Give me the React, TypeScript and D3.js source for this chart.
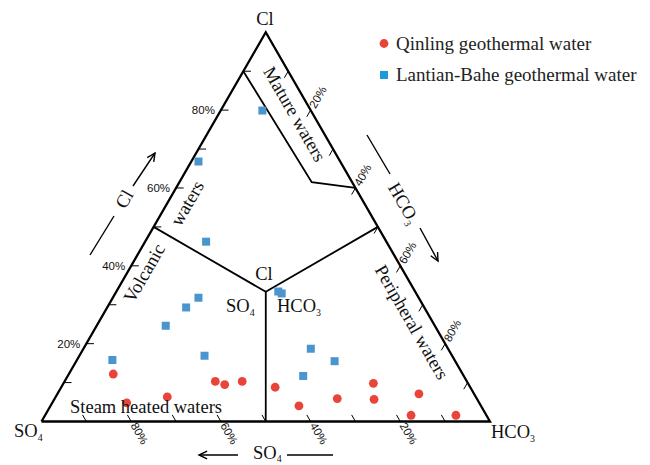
import React from 'react';
import * as d3 from 'd3';

// Cl - SO4 - HCO3 ternary (percent of each anion)
const qinlingCl = [12.2, 4.8, 6.3, 10.3, 9.5, 10.3, 8.8, 4.0, 5.9, 9.8, 5.7, 7.1, 1.6, 1.6];
const qinlingSO4 = [77.9, 78.6, 68.8, 56.1, 54.4, 50.1, 43.5, 40.6, 31.1, 21.1, 23.0, 12.3, 16.8, 6.8];
const qinlingHCO3 = [9.9, 16.6, 24.9, 33.6, 36.1, 39.6, 47.7, 55.4, 63.0, 69.1, 71.3, 80.6, 81.6, 91.6];

const lantianCl = [79.9, 66.8, 46.2, 33.4, 32.9, 31.8, 29.3, 24.6, 15.8, 16.9, 18.7, 15.5, 11.7];
const lantianSO4 = [10.8, 31.6, 40.2, 30.5, 30.0, 49.1, 53.1, 60.0, 76.3, 55.2, 30.6, 26.9, 35.8];
const lantianHCO3 = [9.3, 1.6, 13.6, 36.1, 37.1, 19.1, 17.6, 15.4, 7.9, 27.9, 50.7, 57.6, 52.5];

// field boundaries, [Cl, SO4, HCO3]
const centre = [33.33, 33.33, 33.34];
const boundaryEnds = [[0, 50, 50], [50, 50, 0], [50, 0, 50]];
const matureLine = [[90, 10, 0], [61.5, 9, 29.5], [60, 0, 40]];

const tickSteps = [10, 20, 30, 40, 50, 60, 70, 80, 90];
const labelSteps = [20, 40, 60, 80];

const legendItems = ['Qinling geothermal water', 'Lantian-Bahe geothermal water'];

const RED = '#e8443a';
const BLUE = '#4b95cf';
const SERIF = '"Liberation Serif", "Times New Roman", serif';
const SANS = '"Liberation Sans", Arial, sans-serif';

const x = d3.scaleLinear().domain([0, 100]).range([41.5, 490]);
const y = d3.scaleLinear().domain([0, 100]).range([421.5, 32.3]);

const proj = (cl: number, so4: number, hco3: number): [number, number] => {
  const s = cl + so4 + hco3;
  const c = (cl / s) * 100;
  const h = (hco3 / s) * 100;
  return [x(h + c / 2), y(c)];
};

const line = d3.line<[number, number]>();

const Sub = ({ main, sub, size = 18, shift = 4 }: { main: string; sub: string; size?: number; shift?: number }) => (
  <>
    {main}
    <tspan fontSize={size * 0.55} dy={shift}>{sub}</tspan>
  </>
);

const arrowHead = (x1: number, y1: number, x2: number, y2: number, len = 9) => {
  const a = Math.atan2(y2 - y1, x2 - x1);
  const p1: [number, number] = [x2 - len * Math.cos(a - 0.45), y2 - len * Math.sin(a - 0.45)];
  const p2: [number, number] = [x2 - len * Math.cos(a + 0.45), y2 - len * Math.sin(a + 0.45)];
  return line([p1, [x2, y2], p2]) as string;
};

export default function App() {
  const tri = line([proj(0, 100, 0), proj(0, 0, 100), proj(100, 0, 0), proj(0, 100, 0)]) as string;
  const c = proj(centre[0], centre[1], centre[2]);
  const t = 1.7;

  return (
    <svg width={650} height={465} style={{ position: 'absolute', left: 0, top: 0, background: '#fff' }}>
      {/* triangle */}
      <path d={tri} fill="none" stroke="#000" strokeWidth={2.3} strokeLinejoin="miter" />

      {/* field boundaries */}
      {boundaryEnds.map((e, i) => (
        <path key={i} d={line([c, proj(e[0], e[1], e[2])]) as string} stroke="#000" strokeWidth={1.8} fill="none" />
      ))}
      <path d={line(matureLine.map(p => proj(p[0], p[1], p[2]))) as string} stroke="#000" strokeWidth={1.8} fill="none" />

      {/* ticks */}
      <g stroke="#000" strokeWidth={1}>
        {tickSteps.map(v => {
          const [bx1, by1] = proj(0, 100 - v, v);
          const [bx2, by2] = proj(t, 100 - v, v - t);
          const [lx1, ly1] = proj(v, 100 - v, 0);
          const [lx2, ly2] = proj(v, 100 - v - t, t);
          const [rx1, ry1] = proj(100 - v, 0, v);
          const [rx2, ry2] = proj(100 - v - t, t, v);
          return (
            <g key={v}>
              <line x1={bx1} y1={by1} x2={bx2} y2={by2} />
              <line x1={lx1} y1={ly1} x2={lx2} y2={ly2} />
              <line x1={rx1} y1={ry1} x2={rx2} y2={ry2} />
            </g>
          );
        })}
      </g>

      {/* tick labels */}
      <g fontFamily={SANS} fontSize={11.5} fill="#111">
        {labelSteps.map(v => {
          const [lx, ly] = proj(v, 100 - v, 0);
          const [bx, by] = proj(0, v, 100 - v);
          const [rx, ry] = proj(100 - v, 0, v);
          return (
            <g key={v}>
              <text x={lx - 6} y={ly + 4} textAnchor="end">{v}%</text>
              <text transform={`translate(${bx - 1},${by + 4}) rotate(60)`}>{v}%</text>
              <text transform={`translate(${rx + 5},${ry - 1}) rotate(-60)`}>{v}%</text>
            </g>
          );
        })}
      </g>

      {/* points */}
      {lantianCl.map((cl, i) => {
        const [px, py] = proj(cl, lantianSO4[i], lantianHCO3[i]);
        return <rect key={'b' + i} x={px - 4} y={py - 4} width={8} height={8} fill={BLUE} />;
      })}
      {qinlingCl.map((cl, i) => {
        const [px, py] = proj(cl, qinlingSO4[i], qinlingHCO3[i]);
        return <circle key={'r' + i} cx={px} cy={py} r={4.4} fill={RED} />;
      })}

      {/* texts */}
      <g fontFamily={SERIF} fontSize={18.5} fill="#111">
        <text x={265} y={25} textAnchor="middle">Cl</text>
        <text x={14} y={437}><Sub main="SO" sub="4" /></text>
        <text x={491} y={438}><Sub main="HCO" sub="3" /></text>

        <text x={264} y={280} textAnchor="middle">Cl</text>
        <text x={226} y={312}><Sub main="SO" sub="4" /></text>
        <text x={277} y={312}><Sub main="HCO" sub="3" /></text>

        <text x={70} y={413}>Steam heated waters</text>
        <text transform="translate(295,114) rotate(60)" textAnchor="middle" dy="0.35em">Mature  waters</text>
        <text transform="translate(187,203) rotate(-60)" textAnchor="middle" dy="0.35em">waters</text>
        <text transform="translate(144,273) rotate(-60)" textAnchor="middle" dy="0.35em">Volcanic</text>
        <text transform="translate(412,322) rotate(60)" textAnchor="middle" dy="0.35em">Peripheral waters</text>

        {/* direction annotations */}
        <text transform="translate(124,199) rotate(-60)" textAnchor="middle" dy="0.35em">Cl</text>
        <text transform="translate(404,203) rotate(60)" textAnchor="middle" dy="0.35em"><Sub main="HCO" sub="3" /></text>
        <text x={253} y={459}><Sub main="SO" sub="4" shift={3} /></text>
      </g>

      <g stroke="#000" strokeWidth={1.4} fill="none">
        <line x1={90} y1={255} x2={114} y2={216} />
        <line x1={133} y1={186} x2={155} y2={153} />
        <path d={arrowHead(133, 186, 155, 153)} />

        <line x1={367} y1={135} x2={390} y2={174} />
        <line x1={420} y1={228} x2={438} y2={261} />
        <path d={arrowHead(420, 228, 438, 261)} />

        <line x1={238} y1={455} x2={199} y2={455} />
        <path d={arrowHead(238, 455, 199, 455)} />
        <line x1={287} y1={455} x2={333} y2={455} />
      </g>

      {/* legend */}
      <g fontFamily={SERIF} fontSize={19} fill="#222">
        <circle cx={384} cy={43.5} r={4.4} fill={RED} />
        <text x={396} y={50}>{legendItems[0]}</text>
        <rect x={380} y={71} width={8} height={8} fill="#1e9ad6" />
        <text x={396} y={81}>{legendItems[1]}</text>
      </g>
    </svg>
  );
}
